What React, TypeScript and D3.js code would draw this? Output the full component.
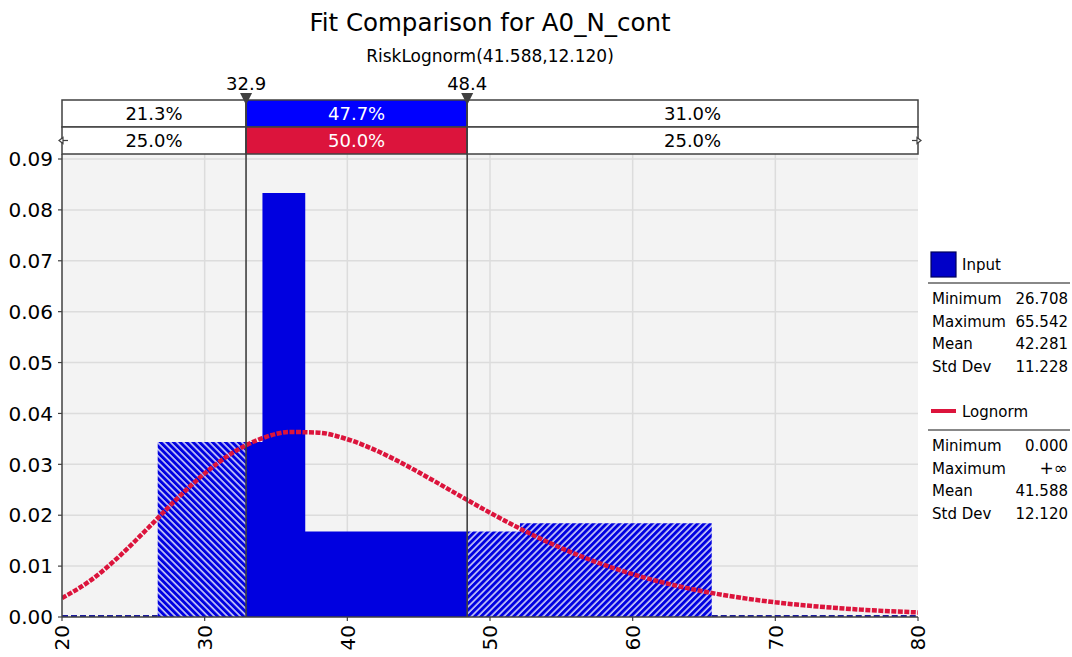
import React from "react";
import * as d3 from "d3";

const TITLE = "Fit Comparison for A0_N_cont";
const SUBTITLE = "RiskLognorm(41.588,12.120)";

// Histogram bins (equal-probability bins)
const binEdges = [26.708, 34.05, 37.05, 52.1, 65.542];
const binHeights = [0.0344, 0.0833, 0.0168, 0.0184];

// Fitted Lognorm density
const curveX = [20, 22, 24, 26, 28, 30, 32, 34, 36, 38, 40, 42, 44, 46, 48, 50, 52, 54, 56, 58, 60, 62, 64, 66, 68, 70, 72, 74, 76, 78, 80];
const curveY = [0.00372, 0.00719, 0.01189, 0.01739, 0.02306, 0.02822, 0.03234, 0.03509, 0.03635, 0.03622, 0.03493, 0.03275, 0.02997, 0.02686, 0.02364, 0.02049, 0.01752, 0.01479, 0.01236, 0.01024, 0.00842, 0.00687, 0.00557, 0.00449, 0.00361, 0.00289, 0.0023, 0.00183, 0.00145, 0.00114, 0.0009];

// Delimiters
const delimiters = [32.9, 48.4];
const inputPcts = ["21.3%", "47.7%", "31.0%"];
const fitPcts = ["25.0%", "50.0%", "25.0%"];

const xTicks = [20, 30, 40, 50, 60, 70, 80];
const yTicks = [0, 0.01, 0.02, 0.03, 0.04, 0.05, 0.06, 0.07, 0.08, 0.09];

const inputStats = [["Minimum", "26.708"], ["Maximum", "65.542"], ["Mean", "42.281"], ["Std Dev", "11.228"]];
const fitStats = [["Minimum", "0.000"], ["Maximum", "+∞"], ["Mean", "41.588"], ["Std Dev", "12.120"]];

const FONT = "'DejaVu Sans', Verdana, sans-serif";
const BLUE = "#0000e0";
const RED = "#dc143c";
const DARK = "#404040";

export default function App() {
  const W = 1072, H = 657;
  const left = 62, right = 918, top = 159, bottom = 617;
  const x = d3.scaleLinear().domain([20, 80]).range([left, right]);
  const y = d3.scaleLinear().domain([0, 0.09]).range([bottom, top]);
  const [lo, hi] = delimiters;

  // Build step-area paths for each region (left hatched, solid, right hatched)
  const regionPath = (ra: number, rb: number) => {
    const pts: [number, number][] = [];
    binHeights.forEach((h, i) => {
      const a = Math.max(binEdges[i], ra), b = Math.min(binEdges[i + 1], rb);
      if (b > a) {
        pts.push([x(a), y(h)]);
        pts.push([x(b), y(h)]);
      }
    });
    if (!pts.length) return "";
    let d = `M${pts[0][0]},${bottom}`;
    pts.forEach((p) => (d += ` L${p[0]},${p[1]}`));
    d += ` L${pts[pts.length - 1][0]},${bottom} Z`;
    return d;
  };

  const line = d3.line<number>().x((d, i) => x(curveX[i])).y((d) => y(d)).curve(d3.curveMonotoneX);

  const bandTop = 100, rowH = 27;
  const cells = [20, lo, hi, 80];
  const P = 4.6;

  return (
    <svg width={W} height={H} style={{ position: "absolute", left: 0, top: 0, background: "#fff" }} fontFamily={FONT}>
      <defs>
        <pattern id="hatchL" patternUnits="userSpaceOnUse" width={P} height={P} patternTransform="rotate(-45)">
          <rect width={P} height={P} fill={BLUE} />
          <line x1={1} y1={-1} x2={1} y2={P + 1} stroke="#ffffff" strokeWidth={1.3} />
        </pattern>
        <pattern id="hatchR" patternUnits="userSpaceOnUse" width={P} height={P} patternTransform="rotate(45)">
          <rect width={P} height={P} fill={BLUE} />
          <line x1={1} y1={-1} x2={1} y2={P + 1} stroke="#ffffff" strokeWidth={1.3} />
        </pattern>
        <clipPath id="plotClip">
          <rect x={left} y={154} width={right - left} height={bottom - 154 + 2} />
        </clipPath>
      </defs>

      <text x={490} y={31} textAnchor="middle" fontSize={24.5} fill="#000">{TITLE}</text>
      <text x={490} y={62} textAnchor="middle" fontSize={17} fill="#000">{SUBTITLE}</text>

      {/* plot background */}
      <rect x={left} y={154} width={right - left} height={bottom - 154} fill="#f3f3f3" />
      {yTicks.slice(1).map((t) => (
        <line key={"gy" + t} x1={left} x2={right} y1={y(t)} y2={y(t)} stroke="#dcdcdc" strokeWidth={1.5} />
      ))}
      {xTicks.slice(1, -1).map((t) => (
        <line key={"gx" + t} x1={x(t)} x2={x(t)} y1={154} y2={bottom} stroke="#dcdcdc" strokeWidth={1.5} />
      ))}

      {/* histogram */}
      <path d={regionPath(-Infinity, lo)} fill="url(#hatchL)" />
      <path d={regionPath(lo, hi)} fill={BLUE} />
      <path d={regionPath(hi, Infinity)} fill="url(#hatchR)" />
      <line x1={x(20)} x2={x(binEdges[0])} y1={bottom - 1} y2={bottom - 1} stroke="#1c1c9c" strokeWidth={2} strokeDasharray="6,3" />
      <line x1={x(binEdges[binEdges.length - 1])} x2={x(80)} y1={bottom - 1} y2={bottom - 1} stroke="#1c1c9c" strokeWidth={2} strokeDasharray="6,3" />

      {/* curve */}
      <path d={line(curveY) || ""} fill="none" stroke={RED} strokeWidth={4.5} strokeDasharray="5,1.5" clipPath="url(#plotClip)" />

      {/* band */}
      {[0, 1, 2].map((i) => (
        <g key={"c" + i}>
          <rect x={x(cells[i])} y={bandTop} width={x(cells[i + 1]) - x(cells[i])} height={rowH}
            fill={i === 1 ? "#0000ff" : "#fff"} stroke={DARK} strokeWidth={1.5} />
          <rect x={x(cells[i])} y={bandTop + rowH} width={x(cells[i + 1]) - x(cells[i])} height={rowH}
            fill={i === 1 ? RED : "#fff"} stroke={DARK} strokeWidth={1.5} />
          <text x={(x(cells[i]) + x(cells[i + 1])) / 2} y={bandTop + 20} textAnchor="middle" fontSize={18}
            fill={i === 1 ? "#fff" : "#000"}>{inputPcts[i]}</text>
          <text x={(x(cells[i]) + x(cells[i + 1])) / 2} y={bandTop + rowH + 20} textAnchor="middle" fontSize={18}
            fill={i === 1 ? "#fff" : "#000"}>{fitPcts[i]}</text>
        </g>
      ))}
      {/* band arrows */}
      <g stroke={DARK} strokeWidth={1.2} fill="#fff">
        <line x1={left - 2} x2={left + 6} y1={bandTop + rowH * 1.5} y2={bandTop + rowH * 1.5} />
        <path d={`M${left - 3},${bandTop + rowH * 1.5} l4,-3 l0,6 z`} />
        <line x1={right - 6} x2={right + 2} y1={bandTop + rowH * 1.5} y2={bandTop + rowH * 1.5} />
        <path d={`M${right + 3},${bandTop + rowH * 1.5} l-4,-3 l0,6 z`} />
      </g>

      {/* delimiter lines and markers */}
      {delimiters.map((d) => (
        <g key={"d" + d}>
          <line x1={x(d)} x2={x(d)} y1={bandTop} y2={bottom} stroke={DARK} strokeWidth={1.6} />
          <path d={`M${x(d) - 6},${bandTop - 7} L${x(d) + 6},${bandTop - 7} L${x(d)},${bandTop + 5} Z`} fill={DARK} />
          <text x={x(d)} y={bandTop - 10} textAnchor="middle" fontSize={18} fill="#000">{d.toFixed(1)}</text>
        </g>
      ))}

      {/* axes */}
      <line x1={left} x2={left} y1={154} y2={bottom} stroke={DARK} strokeWidth={1.5} />
      <line x1={left} x2={right} y1={bottom} y2={bottom} stroke={DARK} strokeWidth={1.5} />
      {yTicks.map((t) => (
        <g key={"yt" + t}>
          <line x1={left - 4} x2={left} y1={y(t)} y2={y(t)} stroke={DARK} strokeWidth={1.2} />
          <text x={left - 9} y={y(t)} dy="0.36em" textAnchor="end" fontSize={20} fill="#000">{t.toFixed(2)}</text>
        </g>
      ))}
      {xTicks.map((t) => (
        <g key={"xt" + t}>
          <line x1={x(t)} x2={x(t)} y1={bottom} y2={bottom + 4} stroke={DARK} strokeWidth={1.2} />
          <text transform={`translate(${x(t)},${bottom + 8}) rotate(-90)`} dy="0.36em" textAnchor="end" fontSize={20} fill="#000">{t}</text>
        </g>
      ))}

      {/* legend */}
      <rect x={931} y={252} width={25} height={25} fill="#0000c8" stroke="#00005a" strokeWidth={1.2} />
      <text x={962} y={270} fontSize={15} fill="#000">Input</text>
      <line x1={928} x2={1070} y1={283} y2={283} stroke="#888" strokeWidth={2} />
      {inputStats.map((r, i) => (
        <g key={"is" + i}>
          <text x={932} y={304 + i * 22.7} fontSize={15} fill="#000">{r[0]}</text>
          <text x={1068} y={304 + i * 22.7} fontSize={15} textAnchor="end" fill="#000">{r[1]}</text>
        </g>
      ))}
      <line x1={931} x2={956} y1={411} y2={411} stroke={RED} strokeWidth={4} />
      <text x={962} y={417} fontSize={15} fill="#000">Lognorm</text>
      <line x1={928} x2={1070} y1={430} y2={430} stroke="#888" strokeWidth={2} />
      {fitStats.map((r, i) => (
        <g key={"fs" + i}>
          <text x={932} y={451 + i * 22.7} fontSize={15} fill="#000">{r[0]}</text>
          <text x={1068} y={451 + i * 22.7} fontSize={i === 1 && r[1] === "+∞" ? 17 : 15} textAnchor="end" fill="#000">{r[1]}</text>
        </g>
      ))}
    </svg>
  );
}
